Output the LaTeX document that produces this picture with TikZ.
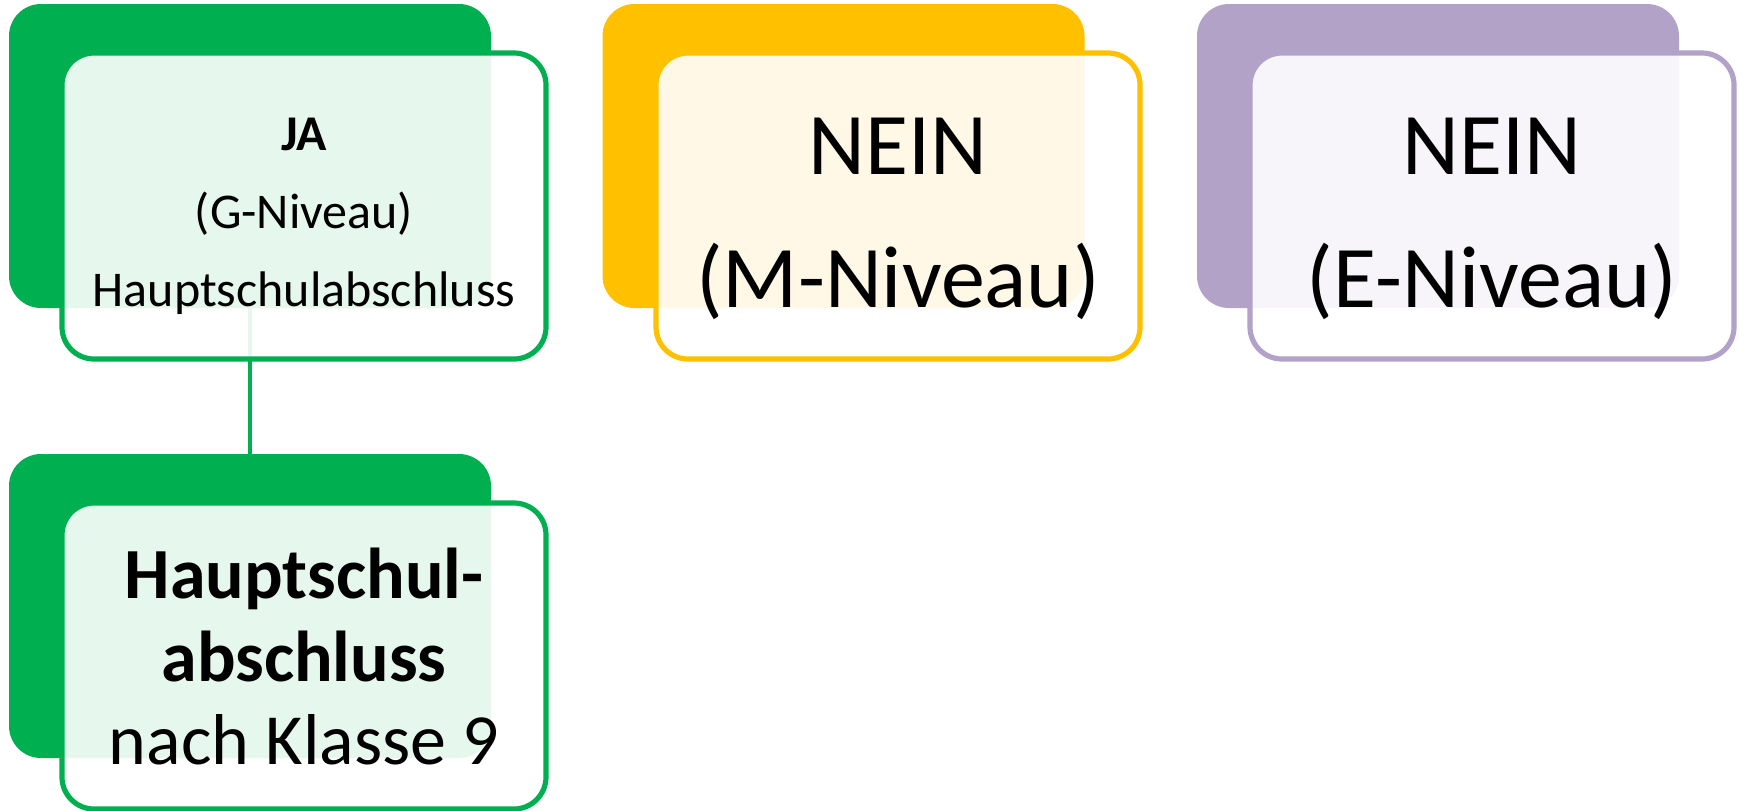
\documentclass[tikz,border=0pt]{standalone}
\usepackage{fontspec}
\setmainfont{Carlito}
\definecolor{gruen}{HTML}{00B050}
\definecolor{gelb}{HTML}{FFC000}
\definecolor{lila}{HTML}{B3A2C7}
\newcommand\oben[1]{\rule{0pt}{#1}}
\tikzset{
  backbox/.style={fill=#1,rounded corners=16pt,minimum width=241pt,minimum height=152pt,inner sep=0pt},
  frontbox/.style={draw=#1,line width=2.6pt,fill=white,fill opacity=0.9,text opacity=1,rounded corners=16pt,minimum width=242pt,minimum height=153pt,inner sep=0pt,align=center},
}
\begin{document}
\begin{tikzpicture}[x=0.5pt,y=-0.5pt]
\useasboundingbox(0,0)rectangle(1740,810);
\node[backbox=gruen](jaback)at(250,156){};
\node[backbox=gelb](mback)at(843.5,156){};
\node[backbox=lila](eback)at(1438,156){};
\node[backbox=gruen](hsback)at(250,606){};
\draw[gruen,line width=2pt](jaback.south)--(hsback.north);
\node[frontbox=gruen,font=\fontsize{25}{39}\selectfont](ja)at(304,206){\oben{27pt}\textbf{JA}\\(G-Niveau)\\Hauptschulabschluss};
\node[frontbox=gelb,font=\fontsize{44}{66.5}\selectfont](m)at(898,206){\oben{41pt}NEIN\\(M-Niveau)};
\node[frontbox=lila,font=\fontsize{44}{66.5}\selectfont](e)at(1492,206){\oben{41pt}NEIN\\(E-Niveau)};
\node[frontbox=gruen,font=\fontsize{36}{41.5}\selectfont](hs)at(304,656){\textbf{Hauptschul-}\\\textbf{abschluss}\\nach Klasse 9};
\end{tikzpicture}
\end{document}
